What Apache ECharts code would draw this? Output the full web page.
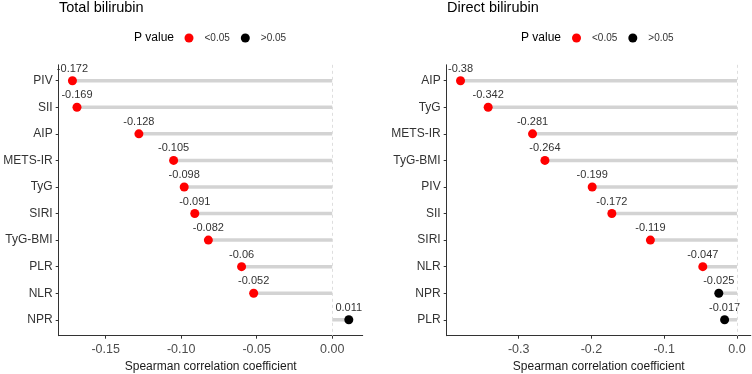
<!DOCTYPE html>
<html>
<head>
<meta charset="utf-8">
<script src="https://cdn.jsdelivr.net/npm/echarts@6/dist/echarts.min.js"></script>
<style>
  html, body { margin: 0; padding: 0; background: #fff; }
  #chart { width: 752px; height: 374px; }
</style>
</head>
<body>
<div id="chart"></div>
<script>
// 左图：总胆红素
const totalNames = ['PIV', 'SII', 'AIP', 'METS-IR', 'TyG', 'SIRI', 'TyG-BMI', 'PLR', 'NLR', 'NPR']
const totalValues = [-0.172, -0.169, -0.128, -0.105, -0.098, -0.091, -0.082, -0.06, -0.052, 0.011]
const totalSig = [true, true, true, true, true, true, true, true, true, false]
const totalTicks = [-0.15, -0.10, -0.05, 0]
const totalTickLabels = ['-0.15', '-0.10', '-0.05', '0.00']

// 右图：直接胆红素
const directNames = ['AIP', 'TyG', 'METS-IR', 'TyG-BMI', 'PIV', 'SII', 'SIRI', 'NLR', 'NPR', 'PLR']
const directValues = [-0.38, -0.342, -0.281, -0.264, -0.199, -0.172, -0.119, -0.047, -0.025, -0.017]
const directSig = [true, true, true, true, true, true, true, true, false, false]
const directTicks = [-0.3, -0.2, -0.1, 0]
const directTickLabels = ['-0.3', '-0.2', '-0.1', '0.0']

const FONT = 'Liberation Sans, Arial, sans-serif'
const RED = '#ff0000'
const BLACK = '#000000'
const rowIdx = [0, 1, 2, 3, 4, 5, 6, 7, 8, 9]

const chart = echarts.init(document.getElementById('chart'))

const makeAxes = (idx, names, ticks, tickLabels, min, max) => {
  const xAxis = {
    gridIndex: idx,
    type: 'value',
    min, max,
    name: 'Spearman correlation coefficient',
    nameLocation: 'middle',
    nameGap: 20,
    nameTextStyle: { fontFamily: FONT, fontSize: 12, color: '#1a1a1a' },
    axisLine: { show: true, onZero: false, lineStyle: { color: '#333', width: 1 } },
    axisTick: { show: true, length: 3, customValues: ticks, lineStyle: { color: '#333' } },
    axisLabel: {
      customValues: ticks,
      margin: 7,
      fontFamily: FONT, fontSize: 12.5, color: '#4d4d4d',
      formatter: v => tickLabels[ticks.findIndex(t => Math.abs(t - v) < 1e-9)]
    },
    splitLine: { show: false }
  }
  const yAxis = {
    gridIndex: idx,
    type: 'value',
    inverse: true,
    min: -0.6, max: 9.6,
    axisLine: { show: true, onZero: false, lineStyle: { color: '#333', width: 1 } },
    axisTick: { show: true, length: 3, customValues: rowIdx, lineStyle: { color: '#333' } },
    axisLabel: {
      customValues: rowIdx,
      margin: 6,
      fontFamily: FONT, fontSize: 12, color: '#333',
      formatter: v => names[Math.round(v)]
    },
    splitLine: { show: false }
  }
  return { xAxis, yAxis }
}

const makeSeries = (idx, values, sig) => {
  const all = values.map((v, i) => [v, i])
  const segment = {
    type: 'custom',
    xAxisIndex: idx, yAxisIndex: idx,
    silent: true,
    renderItem: (params, api) => {
      const a = api.coord([0, api.value(1)])
      const b = api.coord([api.value(0), api.value(1)])
      return {
        type: 'line',
        shape: { x1: a[0], y1: a[1], x2: b[0], y2: b[1] },
        style: { stroke: '#d3d3d3', lineWidth: 3.5 }
      }
    },
    encode: { x: 0, y: 1 },
    data: all,
    markLine: {
      silent: true,
      symbol: 'none',
      label: { show: false },
      lineStyle: { type: [3, 3], color: '#dedede', width: 1 },
      data: [{ xAxis: 0 }]
    },
    z: 1
  }
  const dot = (name, color, keep) => ({
    name,
    type: 'scatter',
    xAxisIndex: idx, yAxisIndex: idx,
    symbol: 'circle',
    symbolSize: 9,
    itemStyle: { color, opacity: 1 },
    label: {
      show: true,
      position: 'top',
      distance: 2,
      fontFamily: FONT, fontSize: 11, color: '#333',
      formatter: p => String(p.value[0])
    },
    data: all.filter((d, i) => sig[i] === keep),
    z: 3
  })
  return [segment, dot('<0.05', RED, true), dot('>0.05', BLACK, false)]
}

const left = makeAxes(0, totalNames, totalTicks, totalTickLabels, -0.1811, 0.0202)
const right = makeAxes(1, directNames, directTicks, directTickLabels, -0.399, 0.019)

const legendBase = {
  orient: 'horizontal',
  top: 33,
  padding: 0,
  icon: 'circle',
  itemWidth: 9,
  itemHeight: 9,
  itemGap: 11,
  selectedMode: false,
  textStyle: { fontFamily: FONT, fontSize: 10, color: '#333', padding: [0, 0, 0, 6] },
  data: ['<0.05', '>0.05']
}

const titleStyle = { fontFamily: FONT, fontSize: 14.5, fontWeight: 'normal', color: '#000' }
const pStyle = { fontFamily: FONT, fontSize: 12, fontWeight: 'normal', color: '#000' }

const option = {
  backgroundColor: '#fff',
  animation: false,
  title: [
    { text: 'Total bilirubin', left: 59, top: 0, padding: 0, textStyle: titleStyle },
    { text: 'Direct bilirubin', left: 447, top: 0, padding: 0, textStyle: titleStyle },
    { text: 'P value', left: 134, top: 32, padding: 0, textStyle: pStyle },
    { text: 'P value', left: 521, top: 32, padding: 0, textStyle: pStyle }
  ],
  legend: [
    Object.assign({}, legendBase, { left: 184.5 }),
    Object.assign({}, legendBase, { left: 572 })
  ],
  grid: [
    { left: 58.7, right: 389.3, top: 64.8, bottom: 38.3, containLabel: false, outerBoundsMode: 'none' },
    { left: 446.7, right: 1.2, top: 64.8, bottom: 38.3, containLabel: false, outerBoundsMode: 'none' }
  ],
  xAxis: [left.xAxis, right.xAxis],
  yAxis: [left.yAxis, right.yAxis],
  series: [
    ...makeSeries(0, totalValues, totalSig),
    ...makeSeries(1, directValues, directSig)
  ]
}

chart.setOption(option)
</script>
</body>
</html>
